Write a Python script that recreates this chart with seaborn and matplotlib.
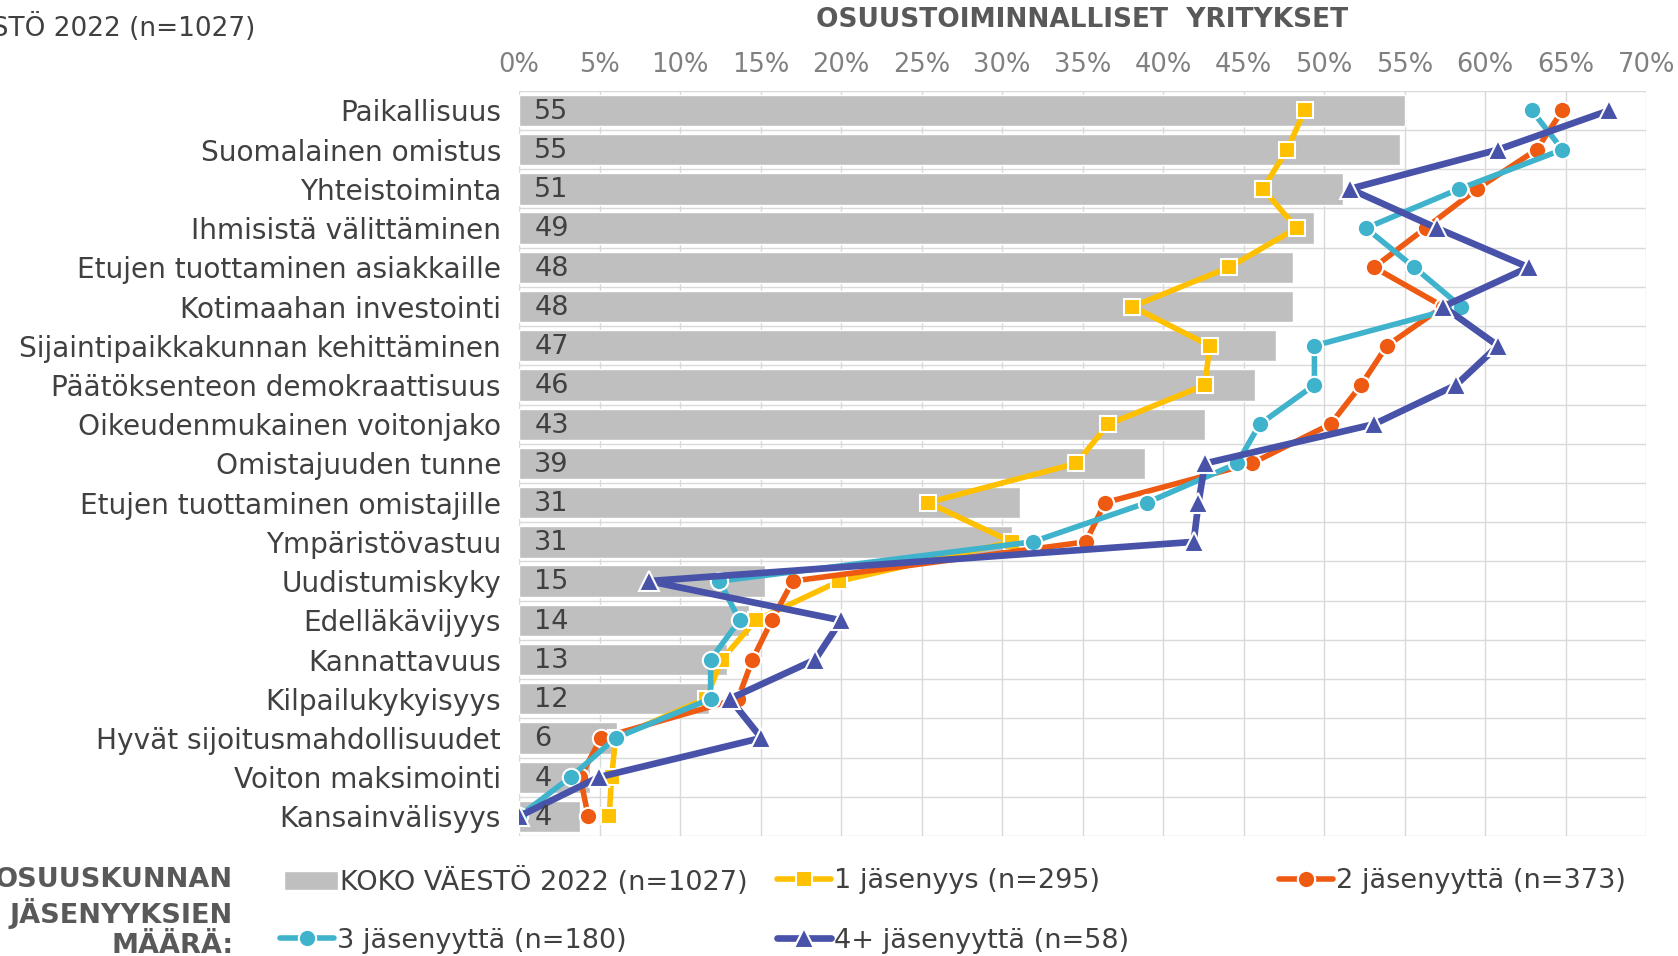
import numpy as np
import pandas as pd
import matplotlib.pyplot as plt
import seaborn as sns

# values (percent)
categories = ["Paikallisuus", "Suomalainen omistus", "Yhteistoiminta",
              "Ihmisistä välittäminen", "Etujen tuottaminen asiakkaille",
              "Kotimaahan investointi", "Sijaintipaikkakunnan kehittäminen",
              "Päätöksenteon demokraattisuus", "Oikeudenmukainen voitonjako",
              "Omistajuuden tunne", "Etujen tuottaminen omistajille",
              "Ympäristövastuu", "Uudistumiskyky", "Edelläkävijyys",
              "Kannattavuus", "Kilpailukykyisyys", "Hyvät sijoitusmahdollisuudet",
              "Voiton maksimointi", "Kansainvälisyys"]
koko = [55.0, 54.7, 51.2, 49.4, 48.1, 48.1, 47.0, 45.7, 42.6, 38.9, 31.1,
        30.6, 15.3, 14.3, 12.9, 11.8, 6.1, 4.4, 3.8]
jas1 = [48.8, 47.7, 46.2, 48.3, 44.1, 38.1, 42.9, 42.6, 36.6, 34.6, 25.4,
        30.6, 19.9, 14.7, 12.6, 11.6, 6.0, 5.75, 5.6]
jas2 = [64.8, 63.2, 59.5, 56.3, 53.1, 57.4, 53.9, 52.3, 50.4, 45.5, 36.4,
        35.2, 17.0, 15.7, 14.5, 13.6, 5.1, 3.8, 4.3]
jas3 = [62.9, 64.8, 58.4, 52.6, 55.6, 58.5, 49.4, 49.4, 46.0, 44.6, 39.0,
        31.9, 12.45, 13.7, 11.9, 11.9, 6.0, 3.2, 0.0]
jas4 = [67.7, 60.8, 51.6, 57.0, 62.7, 57.4, 60.8, 58.2, 53.1, 42.6, 42.2,
        41.9, 8.05, 20.0, 18.4, 13.1, 15.05, 4.95, 0.0]

series_labels = ["1 jäsenyys (n=295)", "2 jäsenyyttä (n=373)",
                 "3 jäsenyyttä (n=180)", "4+ jäsenyyttä (n=58)"]
koko_label = "KOKO VÄESTÖ 2022 (n=1027)"
xticks = list(range(0, 75, 5))

sns.set_style("white")
plt.rcParams['font.family'] = ['DejaVu Sans']
FS = 19.5

fig = plt.figure(figsize=(16.78, 9.56), dpi=100)
ax = fig.add_axes([0.3093, 0.1255, 0.6717, 0.7795])

sns.barplot(x=koko, y=categories, orient="h", color="#BFBFBF", saturation=1,
            width=0.8, ax=ax, label=koko_label, zorder=2)

pos = np.arange(len(categories))
styles = [("#FFC000", "s", 11, 4), ("#EE5A12", "o", 12.5, 4),
          ("#3FB2CC", "o", 12.5, 4), ("#4752A8", "^", 14, 4.8)]
for vals, lab, (col, mk, ms, lw) in zip([jas1, jas2, jas3, jas4], series_labels, styles):
    df = pd.DataFrame({"x": vals, "y": pos})
    sns.lineplot(data=df, x="x", y="y", orient="y", estimator=None, sort=False,
                 color=col, marker=mk, markersize=ms, markeredgecolor="white",
                 markeredgewidth=1.5, linewidth=lw, ax=ax, label=lab, legend=False,
                 zorder=3)

for i, v in enumerate(koko):
    ax.annotate(f"{v:.0f}", xy=(0, i), xytext=(11, -1), textcoords="offset points",
                va="center", ha="left", fontsize=FS, color="#404040", zorder=4)

ax.set_xlim(0, 70)
ax.set_ylim(len(categories) - 0.5, -0.5)
ax.set_xticks(xticks)
ax.set_xticklabels([f"{t}%" for t in xticks])
ax.set_yticks(pos)
ax.set_yticklabels(categories)
ax.set_yticks(np.arange(-0.5, len(categories), 1), minor=True)
ax.xaxis.tick_top()
ax.tick_params(axis="x", which="both", length=0, pad=9, labelsize=FS - 1, labelcolor="#808080")
ax.tick_params(axis="y", which="both", length=0, pad=13, labelsize=20.2, labelcolor="#404040")
ax.grid(axis="x", color="#D9D9D9", linewidth=1, zorder=0)
ax.grid(axis="y", which="minor", color="#D9D9D9", linewidth=1, zorder=0)
ax.grid(axis="y", which="major", visible=False)
ax.set_axisbelow(True)
ax.set_xlabel("")
ax.set_ylabel("")
for s in ax.spines.values():
    s.set_visible(False)

handles, labels = ax.get_legend_handles_labels()
if ax.get_legend() is not None:
    ax.get_legend().remove()

fig.text(0.6448, 0.979, "OSUUSTOIMINNALLISET  YRITYKSET", ha="center", va="center",
         fontsize=FS - 0.5, fontweight="bold", color="#595959")
fig.text(0.152, 0.971, koko_label, ha="right", va="center", fontsize=19, color="#404040")
fig.text(0.139, 0.045, "OSUUSKUNNAN\nJÄSENYYKSIEN\nMÄÄRÄ:", ha="right", va="center",
         fontsize=FS, fontweight="bold", color="#595959", linespacing=1.2)

hmap = dict(zip(labels, handles))
spots = [(koko_label, 0.169, 0.078), (series_labels[0], 0.463, 0.078),
         (series_labels[1], 0.762, 0.078), (series_labels[2], 0.167, 0.016),
         (series_labels[3], 0.463, 0.016)]
for lab, x, y in spots:
    fig.legend(handles=[hmap[lab]], labels=[lab], loc="center left",
               bbox_to_anchor=(x, y), frameon=False, fontsize=FS,
               handlelength=2.0, handletextpad=0.1, borderpad=0,
               borderaxespad=0, labelcolor="#404040")

fig.savefig("out.png", dpi=100)
